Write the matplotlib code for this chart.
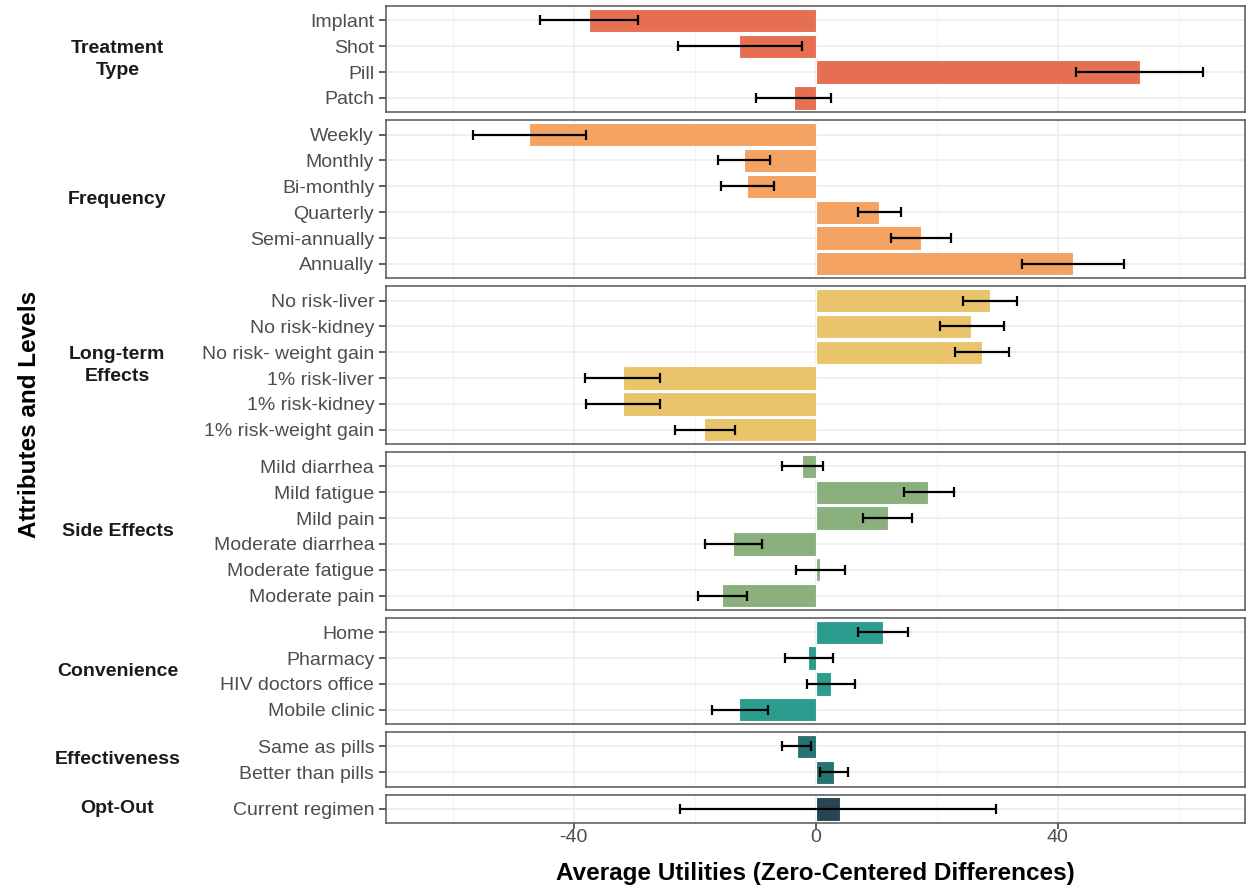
import matplotlib.pyplot as plt
from matplotlib.ticker import MultipleLocator

plt.rcParams['font.family'] = ['Liberation Sans', 'DejaVu Sans']

# attributes (facets), top to bottom
attributes = ['Treatment\nType', 'Frequency', 'Long-term\nEffects', 'Side Effects',
              'Convenience', 'Effectiveness', 'Opt-Out']
colors = ['#E76F51', '#F4A261', '#E9C46A', '#8AB17D', '#2A9D8F', '#287271', '#264653']

levels = [
    ['Implant', 'Shot', 'Pill', 'Patch'],
    ['Weekly', 'Monthly', 'Bi-monthly', 'Quarterly', 'Semi-annually', 'Annually'],
    ['No risk-liver', 'No risk-kidney', 'No risk- weight gain', '1% risk-liver',
     '1% risk-kidney', '1% risk-weight gain'],
    ['Mild diarrhea', 'Mild fatigue', 'Mild pain', 'Moderate diarrhea',
     'Moderate fatigue', 'Moderate pain'],
    ['Home', 'Pharmacy', 'HIV doctors office', 'Mobile clinic'],
    ['Same as pills', 'Better than pills'],
    ['Current regimen'],
]

utilities = [
    [-37.4, -12.6, 53.6, -3.6],
    [-47.4, -11.9, -11.3, 10.4, 17.4, 42.5],
    [28.8, 25.7, 27.5, -31.8, -31.8, -18.4],
    [-2.2, 18.5, 11.9, -13.6, 0.7, -15.4],
    [11.1, -1.2, 2.5, -12.6],
    [-3.1, 3.0],
    [4.0],
]

lower = [
    [-45.5, -22.7, 43.0, -9.9],
    [-56.6, -16.1, -15.6, 7.0, 12.4, 34.1],
    [24.3, 20.5, 23.0, -38.1, -37.9, -23.2],
    [-5.6, 14.6, 7.9, -18.2, -3.3, -19.4],
    [7.0, -5.1, -1.5, -17.2],
    [-5.5, 0.7],
    [-22.4],
]

upper = [
    [-29.3, -2.3, 64.1, 2.6],
    [-37.9, -7.6, -6.8, 14.1, 22.4, 51.0],
    [33.3, 31.1, 32.0, -25.7, -25.7, -13.4],
    [1.2, 22.8, 15.9, -8.8, 4.8, -11.4],
    [15.2, 2.8, 6.5, -7.9],
    [-0.8, 5.3],
    [29.8],
]

fig = plt.figure(figsize=(12.49, 8.88), dpi=100)
heights = [len(l) + 0.1 for l in levels]
gs = fig.add_gridspec(len(levels), 1, height_ratios=heights, hspace=0.075,
                      left=0.309, right=0.997, top=0.993, bottom=0.073)

for i, (attr, labs, vals, lo, hi, col) in enumerate(
        zip(attributes, levels, utilities, lower, upper, colors)):
    ax = fig.add_subplot(gs[i])
    y = list(range(len(labs)))
    xerr = [[v - l for v, l in zip(vals, lo)], [h - v for v, h in zip(vals, hi)]]
    ax.barh(y, vals, height=0.9, color=col, edgecolor='white', linewidth=0.8, zorder=2)
    ax.errorbar(vals, y, xerr=xerr, fmt='none', ecolor='black', elinewidth=1.6,
                capsize=3.4, capthick=1.6, zorder=3)
    ax.set_xlim(-71, 71)
    ax.set_ylim(len(labs) - 0.45, -0.55)
    ax.set_yticks(y)
    ax.set_yticklabels(labs, fontsize=14, color='#4D4D4D')
    ax.xaxis.set_major_locator(MultipleLocator(40))
    ax.xaxis.set_minor_locator(MultipleLocator(20))
    ax.grid(which='major', color='#EBEBEB', linewidth=1.1, zorder=0)
    ax.grid(which='minor', axis='x', color='#F2F2F2', linewidth=0.7, zorder=0)
    ax.set_axisbelow(True)
    ax.tick_params(axis='y', length=5, width=1.1, color='#333333', pad=3.5)
    ax.tick_params(axis='x', which='minor', length=0)
    for s in ax.spines.values():
        s.set_color('#555555')
        s.set_linewidth(1.1)
    if i < len(levels) - 1:
        ax.tick_params(axis='x', which='major', length=0, labelbottom=False)
    else:
        ax.tick_params(axis='x', which='major', length=4, width=1.1, color='#333333',
                       labelsize=14, labelcolor='#4D4D4D', pad=0.5)
        ax.set_xticks([-40, 0, 40])
        ax.set_xticklabels(['-40', '0', '40'])
        ax.set_xlabel('Average Utilities (Zero-Centered Differences)', fontsize=17.5,
                      fontweight='bold', labelpad=11)
    # facet strip label on the left
    pos = ax.get_position()
    fig.text(0.094, (pos.y0 + pos.y1) / 2, attr, ha='center', va='center',
             fontsize=14, fontweight='bold', color='#1A1A1A', linespacing=1.4)

fig.text(0.024, (0.993 + 0.073) / 2, 'Attributes and Levels', rotation=90,
         ha='center', va='center', fontsize=17.5, fontweight='bold')

fig.savefig('out.png', dpi=100)
